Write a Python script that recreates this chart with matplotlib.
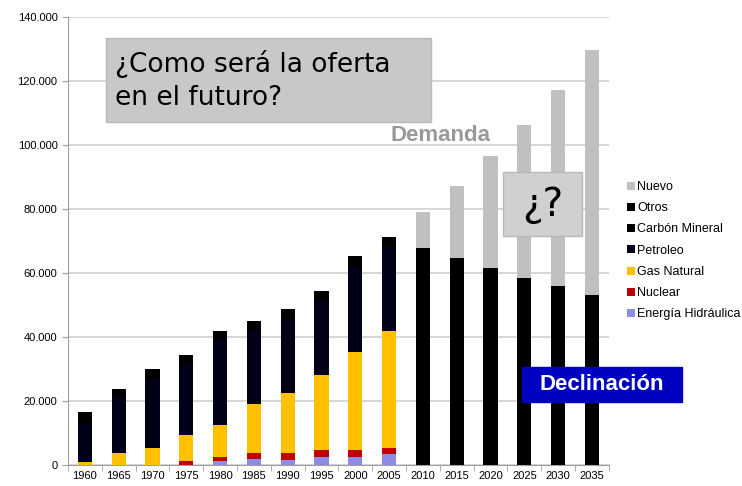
import numpy as np
import matplotlib.pyplot as plt
from matplotlib.patches import Patch, Rectangle
from matplotlib.ticker import FuncFormatter

# Datos
years = ['1960', '1965', '1970', '1975', '1980', '1985', '1990', '1995',
         '2000', '2005', '2010', '2015', '2020', '2025', '2030', '2035']
hidraulica = [0, 0, 0, 0, 1400, 1800, 1600, 2500, 2600, 3300, 0, 0, 0, 0, 0, 0]
nuclear = [0, 0, 0, 1200, 1000, 1900, 2300, 2300, 2100, 2100, 0, 0, 0, 0, 0, 0]
gas = [800, 3900, 5200, 8100, 10200, 15400, 18600, 23400, 30500, 36600, 0, 0, 0, 0, 0, 0]
petroleo = [12000, 17200, 21600, 22200, 26600, 23000, 23200, 22700, 26600, 26300, 0, 0, 0, 0, 0, 0]
carbon = [3900, 2600, 3100, 2800, 2800, 2900, 2900, 3600, 3400, 2900, 0, 0, 0, 0, 0, 0]
otros = [0, 0, 0, 0, 0, 0, 0, 0, 0, 0, 67700, 64600, 61700, 58500, 55800, 53100]
nuevo = [0, 0, 0, 0, 0, 0, 0, 0, 0, 0, 11300, 22600, 34700, 47800, 61500, 76500]

series = [
    ('Energía Hidráulica', hidraulica, '#8c8ce6'),
    ('Nuclear', nuclear, '#c00000'),
    ('Gas Natural', gas, '#ffc000'),
    ('Petroleo', petroleo, '#000018'),
    ('Carbón Mineral', carbon, '#000000'),
    ('Otros', otros, '#000000'),
    ('Nuevo', nuevo, '#c0c0c0'),
]

plt.rcParams['font.family'] = ['Liberation Sans', 'DejaVu Sans']

fig = plt.figure(figsize=(7.42, 4.86), dpi=100)
ax = fig.add_axes([0.0916, 0.0432, 0.729, 0.922])

x = np.arange(len(years))
bottom = np.zeros(len(years))
handles = []
for name, vals, color in series:
    vals = np.array(vals, dtype=float)
    ax.bar(x, vals, width=0.42, bottom=bottom, color=color, zorder=3)
    bottom += vals
    handles.append(Patch(facecolor=color, label=name))

ax.set_xlim(-0.5, len(years) - 0.5)
ax.set_ylim(0, 140000)
ax.set_yticks(np.arange(0, 140001, 20000))
ax.yaxis.set_major_formatter(FuncFormatter(lambda v, p: f'{int(v):,}'.replace(',', '.')))
ax.set_xticks(x)
ax.set_xticklabels(years)
ax.set_xticks(np.arange(-0.5, len(years), 1), minor=True)
ax.tick_params(axis='x', which='major', length=0, labelsize=8, pad=4)
ax.tick_params(axis='x', which='minor', length=4, color='#a0a0a0')
ax.tick_params(axis='y', length=4, color='#a0a0a0', labelsize=8)
ax.grid(axis='y', color='#d0d0d0', linewidth=1.2, zorder=0)
for s in ['top', 'right']:
    ax.spines[s].set_visible(False)
ax.spines['left'].set_color('#a0a0a0')
ax.spines['bottom'].set_color('#a0a0a0')

leg = ax.legend(handles=handles[::-1], loc='upper left', bbox_to_anchor=(1.025, 0.645),
                frameon=False, fontsize=9, handlelength=0.6, handleheight=0.6,
                handletextpad=0.2, labelspacing=0.74, borderaxespad=0)

# Anotaciones
fig.patches.append(Rectangle((0.1429, 0.749), 0.438, 0.173, transform=fig.transFigure,
                             facecolor='#c8c8c8', edgecolor='#b8b8b8', zorder=5))
fig.text(0.155, 0.835, '¿Como será la oferta\nen el futuro?', fontsize=19,
         family='DejaVu Sans', va='center', ha='left', linespacing=1.35, zorder=6)
fig.text(0.593, 0.722, 'Demanda', fontsize=16, fontweight='bold', color='#999999',
         ha='center', va='center')
fig.patches.append(Rectangle((0.678, 0.514), 0.1065, 0.1317, transform=fig.transFigure,
                             facecolor='#d0d0d0', edgecolor='#b8b8b8', zorder=5))
fig.text(0.731, 0.578, '¿?', fontsize=28, family='DejaVu Sans', ha='center', va='center',
         zorder=6)
fig.patches.append(Rectangle((0.7035, 0.173), 0.2156, 0.072, transform=fig.transFigure,
                             facecolor='#0000c0', edgecolor='#0000c0', zorder=5))
fig.text(0.811, 0.209, 'Declinación', fontsize=16, fontweight='bold', color='white',
         ha='center', va='center', zorder=6)

fig.savefig('out.png', dpi=100)
